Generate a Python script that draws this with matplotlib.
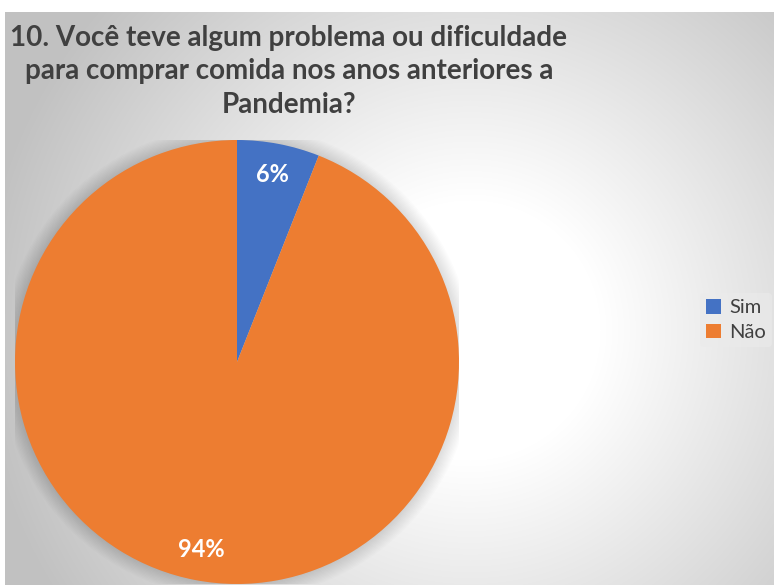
import numpy as np
import matplotlib
matplotlib.use("Agg")
from matplotlib import pyplot as plt
from matplotlib.patches import Circle

labels = ["Sim", "Não"]
shares = [6, 94]
colors = ["#4472C4", "#ED7D31"]
title = "10. Você teve algum problema ou dificuldade\npara comprar comida nos anos anteriores a\nPandemia?"

W, H = 774, 585
plt.rcParams['font.family'] = ['Lato', 'DejaVu Sans']

fig = plt.figure(figsize=(W / 100, H / 100), dpi=100)
fig.patch.set_facecolor("white")

# radial gray background for the chart area (pixel coords, y from top)
bg = fig.add_axes([5 / W, 0, (W - 5) / W, (H - 12) / H])
yy, xx = np.mgrid[12:H, 5:W]
d = np.hypot(xx - 470, yy - 330)
t = np.clip((d - 130) / 360, 0, 1)
shade = 1.0 - 0.24 * t
bg.imshow(np.dstack([shade] * 3), aspect="auto", interpolation="bilinear")
bg.set_axis_off()

# pie axes: centre (237, 362), radius 222
cx, cy, r = 237, 362, 222
ax = fig.add_axes([(cx - r) / W, (H - cy - r) / H, 2 * r / W, 2 * r / H])
ax.set_axis_off()
ax.patch.set_alpha(0)

# soft shadow round the pie
for k in range(12):
    ax.add_patch(Circle((0, 0), 1.0 + k * 0.006, color="black", alpha=0.012, lw=0))

wedges, texts, autotexts = ax.pie(
    shares, colors=colors, startangle=90, counterclock=False, radius=1.0,
    autopct="%d%%", pctdistance=0.86, wedgeprops=dict(linewidth=0),
    textprops=dict(color="white", fontsize=17, fontweight="bold"))
ax.set_xlim(-1.0, 1.0)
ax.set_ylim(-1.0, 1.0)

fig.text(289 / W, 1 - 25 / H, title, ha="center", va="top", fontsize=20,
         fontweight="bold", color="#404040", linespacing=1.35)

leg = fig.legend(wedges, labels, loc="center left", bbox_to_anchor=(690 / W, 1 - 320 / H),
                 frameon=True, fontsize=14.5, handlelength=0.75, handleheight=0.75,
                 handletextpad=0.4, labelspacing=0.35, borderpad=0.3)
leg.get_frame().set_facecolor("#ebebeb")
leg.get_frame().set_edgecolor("none")
leg.get_frame().set_alpha(0.6)
for tx in leg.get_texts():
    tx.set_color("#404040")

fig.savefig("out.png", dpi=100)
